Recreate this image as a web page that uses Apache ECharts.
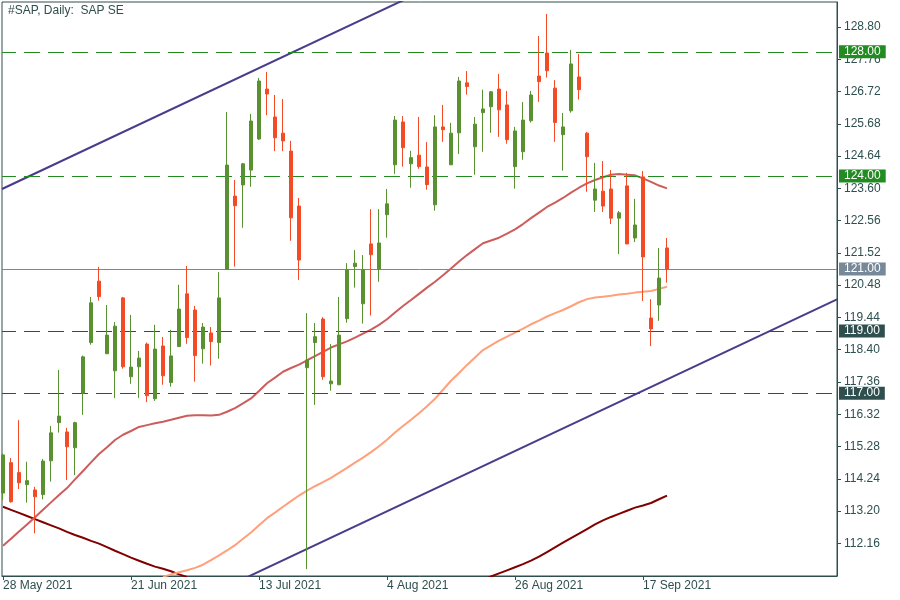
<!DOCTYPE html>
<html>
<head>
<meta charset="utf-8">
<script src="https://cdn.jsdelivr.net/npm/echarts@6/dist/echarts.min.js"></script>
<style>html,body{margin:0;padding:0;background:#fff}#c{width:900px;height:600px}</style>
</head>
<body>
<div id="c"></div>
<script>
// ---------- DATA ----------
const dates = [
 '2021-05-28','2021-05-31','2021-06-01','2021-06-02','2021-06-03','2021-06-04',
 '2021-06-07','2021-06-08','2021-06-09','2021-06-10','2021-06-11',
 '2021-06-14','2021-06-15','2021-06-16','2021-06-17','2021-06-18',
 '2021-06-21','2021-06-22','2021-06-23','2021-06-24','2021-06-25',
 '2021-06-28','2021-06-29','2021-06-30','2021-07-01','2021-07-02',
 '2021-07-05','2021-07-06','2021-07-07','2021-07-08','2021-07-09',
 '2021-07-12','2021-07-13','2021-07-14','2021-07-15','2021-07-16',
 '2021-07-19','2021-07-20','2021-07-21','2021-07-22','2021-07-23',
 '2021-07-26','2021-07-27','2021-07-28','2021-07-29','2021-07-30',
 '2021-08-02','2021-08-03','2021-08-04','2021-08-05','2021-08-06',
 '2021-08-09','2021-08-10','2021-08-11','2021-08-12','2021-08-13',
 '2021-08-16','2021-08-17','2021-08-18','2021-08-19','2021-08-20',
 '2021-08-23','2021-08-24','2021-08-25','2021-08-26','2021-08-27',
 '2021-08-30','2021-08-31','2021-09-01','2021-09-02','2021-09-03',
 '2021-09-06','2021-09-07','2021-09-08','2021-09-09','2021-09-10',
 '2021-09-13','2021-09-14','2021-09-15','2021-09-16','2021-09-17',
 '2021-09-20','2021-09-21','2021-09-22'
];
const opens = [113.78,114.76,114.44,114.05,113.88,113.73,114.82,116.05,115.75,115.24,117.00,118.63,120.61,118.27,117.72,120.07,117.53,117.85,118.58,116.82,118.52,117.34,118.50,120.20,119.68,118.43,118.94,118.63,120.99,123.35,123.71,124.19,125.19,126.80,125.90,125.38,124.80,123.03,117.82,118.63,119.39,117.30,117.27,119.40,121.08,119.88,121.81,121.00,122.75,124.36,125.74,124.39,124.67,124.29,123.07,125.58,124.36,125.39,127.00,124.94,126.04,126.23,126.80,126.29,124.30,124.78,125.78,127.22,127.96,126.83,125.33,126.10,127.19,125.38,123.22,123.51,123.58,122.64,123.68,122.00,123.97,119.42,119.84,121.68];
const highs = [115.05,114.91,116.13,114.79,113.98,114.88,115.94,117.75,115.88,116.08,118.21,120.10,121.07,119.84,119.29,120.10,119.52,118.36,118.63,119.20,118.81,119.04,120.49,121.10,119.81,119.26,119.13,120.90,126.06,123.87,124.42,126.00,127.16,127.35,126.61,126.48,125.13,123.29,119.58,119.26,119.45,118.58,120.10,121.19,121.61,121.45,122.93,122.93,123.58,125.93,125.93,124.81,125.90,125.09,125.96,126.29,125.71,127.19,127.38,125.90,126.78,126.74,127.29,126.74,125.58,126.38,126.74,128.51,129.22,127.09,126.03,128.06,127.93,125.42,124.42,124.48,124.19,122.87,124.10,123.26,124.16,120.03,121.68,122.00];
const lows = [113.56,113.47,113.91,113.47,112.48,113.58,114.15,115.73,114.20,114.36,116.30,118.56,119.98,118.27,116.84,117.79,117.30,116.85,116.71,116.75,117.27,117.21,118.50,118.59,117.37,117.95,117.89,118.11,120.99,121.08,122.33,123.65,125.16,125.96,124.80,124.80,121.91,120.65,111.33,116.62,117.43,117.08,117.27,119.27,120.40,119.24,119.50,120.59,122.01,124.07,124.30,123.62,124.23,123.56,122.88,125.10,124.36,124.71,126.62,124.04,124.78,125.39,125.26,125.04,123.59,124.52,125.72,126.39,127.17,125.10,124.17,126.04,126.46,123.49,122.84,122.84,122.45,121.48,121.80,121.87,119.97,118.52,119.33,120.56];
const closes = [115.01,113.50,114.11,114.18,113.66,114.81,115.72,116.26,115.27,116.05,118.17,119.91,120.11,118.87,119.16,117.85,117.84,118.13,116.92,118.42,117.56,118.20,119.71,118.79,118.21,119.13,118.66,120.07,124.35,123.04,124.39,125.77,127.06,126.64,125.23,125.13,122.65,121.29,118.07,118.82,117.53,117.39,118.87,120.98,121.19,120.98,121.46,121.84,123.10,125.80,124.91,124.59,124.30,123.72,125.58,125.49,125.38,127.06,126.88,125.67,126.16,126.71,126.13,125.17,125.45,125.80,126.61,127.04,127.39,125.72,125.58,127.61,126.78,124.62,123.58,123.03,122.64,122.81,121.81,122.42,121.39,119.07,120.71,121.00];

// moving averages (indianred, lightsalmon, maroon)
const maFast = [112.08,112.31,112.54,112.77,113.00,113.24,113.48,113.72,113.94,114.22,114.49,114.77,115.04,115.26,115.49,115.66,115.78,115.91,115.97,116.03,116.08,116.14,116.21,116.27,116.29,116.29,116.28,116.30,116.40,116.52,116.67,116.83,117.07,117.32,117.50,117.69,117.81,117.92,118.06,118.19,118.33,118.47,118.57,118.67,118.79,118.92,119.05,119.20,119.38,119.60,119.81,120.00,120.20,120.40,120.59,120.80,121.02,121.24,121.45,121.64,121.83,121.92,122.01,122.14,122.28,122.45,122.64,122.82,123.00,123.14,123.29,123.46,123.62,123.76,123.87,123.96,124.04,124.06,124.04,124.02,123.92,123.81,123.69,123.60];
const maMid = [null,null,null,null,null,null,null,null,null,null,null,null,null,null,null,null,null,null,null,null,111.08,111.16,111.23,111.29,111.37,111.47,111.62,111.77,111.93,112.10,112.31,112.51,112.74,112.97,113.15,113.34,113.52,113.70,113.86,114.00,114.13,114.27,114.43,114.59,114.76,114.92,115.10,115.29,115.50,115.73,115.94,116.14,116.35,116.58,116.82,117.11,117.40,117.65,117.91,118.15,118.39,118.54,118.69,118.82,118.95,119.08,119.22,119.34,119.47,119.58,119.68,119.80,119.93,120.03,120.08,120.11,120.14,120.18,120.20,120.24,120.27,120.29,120.36,120.43];
const maSlow = [113.34,113.24,113.14,113.04,112.94,112.84,112.74,112.64,112.53,112.43,112.34,112.24,112.15,112.04,111.92,111.81,111.70,111.60,111.50,111.41,111.34,111.26,111.16,111.08,null,null,null,null,null,null,null,null,null,null,null,null,null,null,null,null,null,null,null,null,null,null,null,null,null,null,null,null,null,null,null,null,null,null,null,null,110.98,111.09,111.19,111.29,111.39,111.49,111.60,111.73,111.88,112.03,112.18,112.33,112.47,112.62,112.77,112.90,113.01,113.11,113.21,113.31,113.38,113.46,113.58,113.70];

// trend channel lines [barIndex, price]
const trendUpper = [[-0.125, 123.58], [104.25, 136.24]];
const trendLower = [[-0.125, 107.35], [104.25, 120.02]];

// horizontal levels
const greenLevels = [128.00, 124.00];
const darkLevels = [119.00, 117.00];
const currentPrice = 121.00;

// axis ticks
const yTicks = [112.16,113.20,114.24,115.28,116.32,117.36,118.40,119.44,120.48,121.52,122.56,123.60,124.64,125.68,126.72,127.76,128.80];
const dateTickIdx = [0,16,32,48,64,80];

// ---------- CHART ----------
const months = ['Jan','Feb','Mar','Apr','May','Jun','Jul','Aug','Sep','Oct','Nov','Dec'];
function fmtDate(s){ if(!s) return ''; const p=s.split('-'); return (+p[2])+' '+months[+p[1]-1]+' '+p[0]; }

const FONT = '"Liberation Sans", Arial, sans-serif';
const AXC = '#2F4F4F';
const BULL = '#5A9130';
const BEAR = '#F24B26';
const GREEN_LVL = '#228B22';
const DARK_LVL = '#2F4F4F';
const CUR = '#778899';

function lvl(v, color, dashed){
  return {yAxis: v,
    lineStyle: {color: color, width: 1, type: dashed ? [16, 8] : 'solid', dashOffset: 2},
    label: {backgroundColor: color}};
}

const chart = echarts.init(document.getElementById('c'), null, {renderer: 'canvas'});
chart.setOption({
  animation: false,
  backgroundColor: '#ffffff',
  title: {text: '#SAP, Daily:  SAP SE', left: 8, top: 5, padding: 0,
    textStyle: {fontFamily: FONT, fontSize: 12, fontWeight: 'normal', color: AXC}},
  grid: {left: 2, right: 63, top: 2, bottom: 24, show: true, borderColor: AXC, borderWidth: 1, backgroundColor: 'transparent'},
  xAxis: {
    type: 'value', min: -0.125, max: 104.25,
    axisLine: {show: true, onZero: false, lineStyle: {color: AXC, width: 1}},
    axisTick: {show: true, customValues: dateTickIdx, length: 4, lineStyle: {color: AXC}},
    axisLabel: {customValues: dateTickIdx, formatter: v => fmtDate(dates[Math.round(v)]),
      align: 'left', margin: 4, color: AXC, fontFamily: FONT, fontSize: 12},
    splitLine: {show: false}, minorTick: {show: false}
  },
  yAxis: {
    type: 'value', position: 'right', min: 111.107, max: 129.606,
    axisLine: {show: true, onZero: false, lineStyle: {color: AXC, width: 1}},
    axisTick: {show: true, inside: false, customValues: yTicks, length: 4, lineStyle: {color: AXC}},
    axisLabel: {customValues: yTicks, formatter: v => Number(v).toFixed(2),
      margin: 7, color: AXC, fontFamily: FONT, fontSize: 12},
    splitLine: {show: false}, minorTick: {show: false}
  },
  series: [
    {
      type: 'line', name: 'levels', data: [], silent: true, z: 2,
      markLine: {
        symbol: 'none', silent: true, animation: false,
        label: {show: true, position: 'end', distance: 2, color: '#ffffff', fontFamily: FONT, fontSize: 12,
          padding: [1, 5, 0, 5], lineHeight: 12, formatter: p => Number(p.value).toFixed(2)},
        data: [
          lvl(greenLevels[0], GREEN_LVL, true),
          lvl(greenLevels[1], GREEN_LVL, true),
          lvl(currentPrice, CUR, false),
          lvl(darkLevels[0], DARK_LVL, true),
          lvl(darkLevels[1], DARK_LVL, true)
        ]
      }
    },
    {type: 'line', data: trendUpper, symbol: 'none', silent: true, z: 3, clip: true,
      lineStyle: {color: '#483D8B', width: 2}},
    {type: 'line', data: trendLower, symbol: 'none', silent: true, z: 3, clip: true,
      lineStyle: {color: '#483D8B', width: 2}},
    {type: 'line', data: maSlow.map((v, i) => [i, v]), symbol: 'none', silent: true, z: 3, clip: true,
      lineStyle: {color: '#800000', width: 2}},
    {type: 'line', data: maMid.map((v, i) => [i, v]), symbol: 'none', silent: true, z: 3, clip: true,
      lineStyle: {color: '#FFA07A', width: 2}},
    {type: 'line', data: maFast.map((v, i) => [i, v]), symbol: 'none', silent: true, z: 3, clip: true,
      lineStyle: {color: '#CD5C5C', width: 2}},
    {
      type: 'candlestick', z: 5, silent: true, clip: true,
      dimensions: ['idx', 'open', 'close', 'lowest', 'highest'],
      encode: {x: 'idx', y: ['open', 'close', 'lowest', 'highest']},
      data: dates.map((d, i) => [i, opens[i], closes[i], lows[i], highs[i]]),
      barWidth: 4,
      itemStyle: {color: BULL, color0: BEAR, borderColor: BULL, borderColor0: BEAR, borderWidth: 1}
    }
  ]
});
</script>
</body>
</html>
